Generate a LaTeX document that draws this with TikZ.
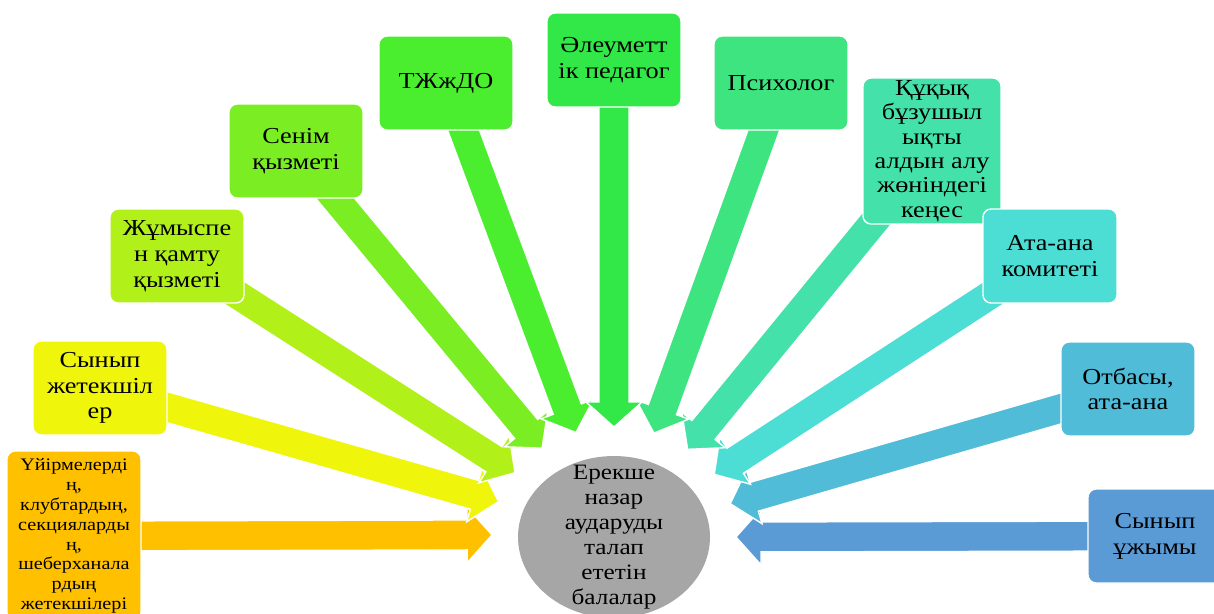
\documentclass[tikz,border=0pt]{standalone}
\usepackage{fontspec}
\setmainfont{Liberation Serif}[FakeStretch=1.15]
\usetikzlibrary{calc,backgrounds,shapes.geometric}

\definecolor{clubcol}{RGB}{255,192,0}
\definecolor{teachcol}{RGB}{240,245,12}
\definecolor{jobcol}{RGB}{178,240,26}
\definecolor{trustcol}{RGB}{122,238,34}
\definecolor{tzhcol}{RGB}{74,238,46}
\definecolor{socialcol}{RGB}{50,232,72}
\definecolor{psycol}{RGB}{62,228,128}
\definecolor{lawcol}{RGB}{68,226,170}
\definecolor{committeecol}{RGB}{76,221,212}
\definecolor{familycol}{RGB}{80,188,216}
\definecolor{classcol}{RGB}{91,155,213}
\definecolor{kidscol}{RGB}{166,166,166}

% block arrow from a box to the ring round the centre
\newcommand\fatarrow[3]{%
  \path let \p1=($(#2)-(ring)$), \n1={atan2(\y1,\x1)} in (ring.\n1) coordinate (#3);
  \coordinate (#3h) at ($(#3)!0.5cm!(#2)$);
  \fill[#1, draw=white, line width=0.8pt]
    ($(#2)!0.3cm!90:(#3)$) -- ($(#3h)!0.3cm!90:(#3)$) -- ($(#3h)!0.56cm!90:(#3)$)
    -- (#3) -- ($(#3h)!0.56cm!-90:(#3)$) -- ($(#3h)!0.3cm!-90:(#3)$)
    -- ($(#2)!0.3cm!-90:(#3)$) -- cycle;
}

\begin{document}
\begin{tikzpicture}[x=0.02cm, y=-0.02cm,
  box/.style={rounded corners=0.16cm, draw=white, line width=0.8pt,
    minimum width=2.68cm, minimum height=1.88cm, align=center, inner sep=2pt,
    font=\fontsize{13}{14.7}\selectfont}]
\path[use as bounding box, clip] (0,0) rectangle (1214,613);

\fill[kidscol] (614,537) ellipse [x radius=1.92cm, y radius=1.62cm];
\node[align=center, font=\fontsize{12.5}{14.2}\selectfont] (kids) at (614,537)
  {Ерекше\\назар\\аударуды\\талап\\ететін\\балалар};
\node[ellipse, minimum width=4.88cm, minimum height=4.4cm, inner sep=0pt, outer sep=0pt] (ring) at (614,537) {};

\node[box, fill=clubcol, minimum height=3.4cm, font=\fontsize{10}{11.3}\selectfont] (clubs) at (74,536)
  {Үйірмелерді\\ң,\\клубтардың,\\секцияларды\\ң,\\шеберханала\\рдың\\жетекшілері};
\node[box, fill=teachcol] (teachers) at (100,388) {Сынып\\жетекшіл\\ер};
\node[box, fill=jobcol] (jobs) at (177,256) {Жұмыспе\\н қамту\\қызметі};
\node[box, fill=trustcol] (trust) at (296,151) {Сенім\\қызметі};
\node[box, fill=tzhcol] (tzhdo) at (446,83) {ТЖжДО};
\node[box, fill=socialcol] (social) at (614,60) {Әлеуметт\\ік педагог};
\node[box, fill=psycol] (psy) at (781,83) {Психолог};
\node[box, fill=lawcol, minimum width=2.76cm, minimum height=2.92cm, inner ysep=0pt,
  font=\fontsize{13}{13.9}\selectfont] (law) at (932,151)
  {Құқық\\бұзушыл\\ықты\\алдын алу\\жөніндегі\\кеңес};
\node[box, fill=committeecol] (committee) at (1050,256) {Ата-ана\\комитеті};
\node[box, fill=familycol] (family) at (1128,389) {Отбасы,\\ата-ана};
\node[box, fill=classcol] (class) at (1155,536) {Сынып\\ұжымы};

\begin{pgfonlayer}{background}
\fatarrow{clubcol}{clubs}{t1}
\fatarrow{teachcol}{teachers}{t2}
\fatarrow{jobcol}{jobs}{t3}
\fatarrow{trustcol}{trust}{t4}
\fatarrow{tzhcol}{tzhdo}{t5}
\fatarrow{classcol}{class}{t11}
\fatarrow{familycol}{family}{t10}
\fatarrow{committeecol}{committee}{t9}
\fatarrow{lawcol}{law}{t8}
\fatarrow{psycol}{psy}{t7}
\fatarrow{socialcol}{social}{t6}
\end{pgfonlayer}
\end{tikzpicture}
\end{document}
